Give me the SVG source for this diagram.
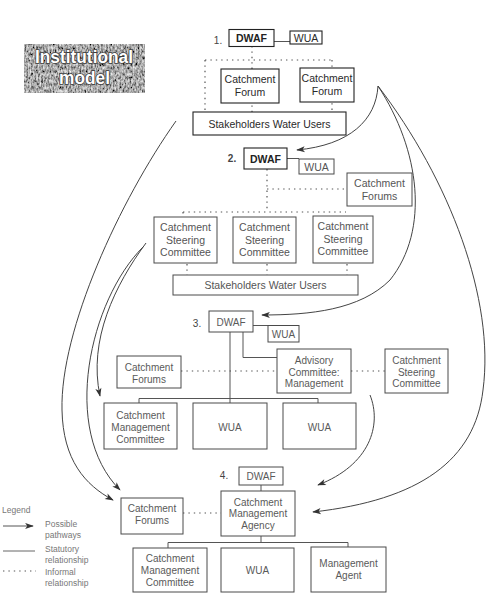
<svg xmlns="http://www.w3.org/2000/svg" width="496" height="606" viewBox="0 0 496 606">
  <style>
    text { font-family: "Liberation Sans", Arial, sans-serif; }
    .box { fill: #fff; stroke: #4a4a4a; stroke-width: 1; }
    .box1 { fill: #fff; stroke: #222; stroke-width: 1.1; }
    .t { font-size: 10px; fill: #5a5a5a; text-anchor: middle; }
    .t1 { font-size: 10.5px; fill: #2a2a2a; text-anchor: middle; }
    .t2 { font-size: 10.5px; fill: #555; text-anchor: middle; }
    .b { font-weight: bold; fill: #222; }
    .num { font-size: 10px; fill: #444; text-anchor: middle; }
    .solid { fill: none; stroke: #555; stroke-width: 1; }
    .dot { fill: none; stroke: #555; stroke-width: 1.2; stroke-dasharray: 1.4 4; }
    .path { fill: none; stroke: #444; stroke-width: 1; marker-end: url(#arrow); }
    .leg { font-size: 8.5px; fill: #777; }
    .badge-text { font-size: 18px; font-weight: bold; fill: #fff; stroke: #3a3a3a; stroke-width: 1.6; paint-order: stroke; text-anchor: middle; }
  </style>
  <defs>
    <marker id="arrow" viewBox="0 0 10 8" refX="9" refY="4" markerWidth="10" markerHeight="7" markerUnits="userSpaceOnUse" orient="auto">
      <path d="M0,0.5 L10,4 L0,7.5 L2.5,4 z" fill="#333"/>
    </marker>
    <!-- speckled grey texture for the title badge -->
    <filter id="grain" x="0" y="0" width="100%" height="100%">
      <feTurbulence type="fractalNoise" baseFrequency="0.6 0.3" numOctaves="3" seed="11" result="n"/>
      <feColorMatrix in="n" type="matrix" values="1.3 0 0 0 -0.25  1.3 0 0 0 -0.25  1.3 0 0 0 -0.25  0 0 0 0 1"/>
      <feComposite in2="SourceGraphic" operator="in"/>
    </filter>
  </defs>

  <!-- title badge -->
  <g id="badge">
    <rect x="24" y="44" width="121" height="49" fill="#666"/>
    <rect x="24" y="44" width="121" height="49" fill="#666" filter="url(#grain)"/>
    <text class="badge-text" x="84" y="63" textLength="98" lengthAdjust="spacingAndGlyphs">Institutional</text>
    <text class="badge-text" x="84.5" y="84" textLength="51" lengthAdjust="spacingAndGlyphs">model</text>
  </g>

  <!-- connectors -->
  <g id="connectors">
    <!-- stage 1 -->
    <line class="solid" x1="274" y1="41.5" x2="290" y2="41.5" stroke="#222"/>
    <line class="dot" x1="252" y1="46" x2="252" y2="112"/>
    <line class="dot" x1="205" y1="60" x2="332" y2="60"/>
    <line class="dot" x1="205" y1="60" x2="205" y2="112"/>
    <line class="dot" x1="332" y1="60" x2="332" y2="112"/>
    <!-- stage 2 -->
    <line class="solid" x1="287" y1="158.5" x2="299" y2="158.5"/>
    <line class="dot" x1="267" y1="169" x2="267" y2="212"/>
    <line class="dot" x1="267" y1="189" x2="347" y2="189"/>
    <line class="dot" x1="183" y1="212" x2="346" y2="212"/>
    <line class="dot" x1="183" y1="212" x2="183" y2="217"/>
    <line class="dot" x1="187" y1="264" x2="187" y2="275"/>
    <line class="dot" x1="267" y1="264" x2="267" y2="275"/>
    <line class="dot" x1="347" y1="264" x2="347" y2="275"/>
    <!-- stage 3 -->
    <line class="solid" x1="253" y1="325.5" x2="268" y2="325.5"/>
    <polyline class="solid" points="243,332 243,357.5 277,357.5"/>
    <line class="solid" x1="230" y1="332" x2="230" y2="403"/>
    <polyline class="solid" points="139,403 139,398.5 318,398.5 318,403"/>
    <line class="dot" x1="181" y1="371" x2="277" y2="371"/>
    <line class="dot" x1="351" y1="371" x2="385" y2="371"/>
    <!-- stage 4 -->
    <line class="solid" x1="261" y1="485" x2="261" y2="491"/>
    <line class="solid" x1="261" y1="536" x2="261" y2="542"/>
    <polyline class="solid" points="168,548 168,542.5 348,542.5 348,547"/>
    <line class="dot" x1="183" y1="513" x2="221" y2="513"/>

    <!-- possible pathways -->
    <path class="path" d="M176,121 C120,200 60,330 62,410 C63,460 85,485 113,500"/>
    <path class="path" d="M146,243 C115,285 88,340 100,396"/>
    <path class="path" d="M143,247 C90,300 60,430 120,490"/>
    <path class="path" d="M378,86 C376,120 350,145 297,150"/>
    <path class="path" d="M378,86 C420,150 430,230 390,280 C360,310 310,315 262,315"/>
    <path class="path" d="M378,86 C450,180 495,300 483,390 C475,460 420,500 313,512"/>
    <path class="path" d="M370,395 C382,425 370,465 318,485"/>
  </g>

  <!-- stage 1 -->
  <text class="num" x="218" y="44">1.</text>
  <g id="dwaf1">
    <rect class="box1" x="229" y="29.5" width="45" height="17"/>
    <text class="t1 b" x="251.5" y="42">DWAF</text>
  </g>
  <g id="wua1">
    <rect class="box1" x="290" y="31" width="32" height="13"/>
    <text class="t1" x="306" y="41.5" font-size="10">WUA</text>
  </g>
  <g id="forum1a">
    <rect class="box1" x="221" y="69" width="58" height="34"/>
    <text class="t1" x="250" y="83">Catchment</text>
    <text class="t1" x="250" y="96">Forum</text>
  </g>
  <g id="forum1b">
    <rect class="box1" x="300" y="68" width="54" height="34"/>
    <text class="t1" x="327" y="82">Catchment</text>
    <text class="t1" x="327" y="95">Forum</text>
  </g>
  <g id="users1">
    <rect class="box1" x="193" y="112" width="153" height="23"/>
    <text class="t1" x="269.5" y="127.5">Stakeholders Water Users</text>
  </g>

  <!-- stage 2 -->
  <text class="num b" x="232" y="162">2.</text>
  <g id="dwaf2">
    <rect class="box1" x="244" y="148" width="43" height="21"/>
    <text class="t1 b" x="265.5" y="162.5">DWAF</text>
  </g>
  <g id="wua2">
    <rect class="box" x="299" y="159" width="35" height="15"/>
    <text class="t2" x="316.5" y="170.5">WUA</text>
  </g>
  <g id="forums2">
    <rect class="box" x="347" y="173" width="65" height="33"/>
    <text class="t2" x="379.5" y="187">Catchment</text>
    <text class="t2" x="379.5" y="200">Forums</text>
  </g>
  <g id="steering2a">
    <rect class="box" x="154" y="217" width="63" height="46"/>
    <text class="t2" x="185.5" y="231">Catchment</text>
    <text class="t2" x="185.5" y="243.5">Steering</text>
    <text class="t2" x="185.5" y="256">Committee</text>
  </g>
  <g id="steering2b">
    <rect class="box" x="233" y="217" width="63" height="46"/>
    <text class="t2" x="264.5" y="231">Catchment</text>
    <text class="t2" x="264.5" y="243.5">Steering</text>
    <text class="t2" x="264.5" y="256">Committee</text>
  </g>
  <g id="steering2c">
    <rect class="box" x="313" y="216" width="60" height="47"/>
    <text class="t2" x="343" y="230">Catchment</text>
    <text class="t2" x="343" y="242.5">Steering</text>
    <text class="t2" x="343" y="255">Committee</text>
  </g>
  <g id="users2">
    <rect class="box" x="173" y="275" width="185" height="20"/>
    <text class="t2" x="265.5" y="289">Stakeholders Water Users</text>
  </g>

  <!-- stage 3 -->
  <text class="num" x="197" y="327">3.</text>
  <g id="dwaf3">
    <rect class="box" x="209" y="311" width="44" height="21"/>
    <text class="t" x="231" y="325.5">DWAF</text>
  </g>
  <g id="wua3">
    <rect class="box" x="268" y="325.5" width="31" height="16.5"/>
    <text class="t" x="283.5" y="338">WUA</text>
  </g>
  <g id="advisory3">
    <rect class="box" x="277" y="349" width="74" height="44"/>
    <text class="t" x="314" y="363.5">Advisory</text>
    <text class="t" x="314" y="375.5">Committee:</text>
    <text class="t" x="314" y="387">Management</text>
  </g>
  <g id="forums3">
    <rect class="box" x="117" y="356" width="64" height="32"/>
    <text class="t" x="149" y="370.5">Catchment</text>
    <text class="t" x="149" y="382.5">Forums</text>
  </g>
  <g id="steering3">
    <rect class="box" x="385" y="349" width="63" height="44"/>
    <text class="t" x="416.5" y="363.5">Catchment</text>
    <text class="t" x="416.5" y="375.5">Steering</text>
    <text class="t" x="416.5" y="387">Committee</text>
  </g>
  <g id="cmc3">
    <rect class="box" x="104" y="403" width="73" height="46"/>
    <text class="t" x="140.5" y="418.5">Catchment</text>
    <text class="t" x="140.5" y="430.5">Management</text>
    <text class="t" x="140.5" y="442.5">Committee</text>
  </g>
  <g id="wua3b">
    <rect class="box" x="193" y="403" width="74" height="46"/>
    <text class="t" x="230" y="430.5">WUA</text>
  </g>
  <g id="wua3c">
    <rect class="box" x="283" y="403" width="73" height="46"/>
    <text class="t" x="319.5" y="430.5">WUA</text>
  </g>

  <!-- stage 4 -->
  <text class="num" x="224" y="479">4.</text>
  <g id="dwaf4">
    <rect class="box" x="239" y="467" width="44" height="18"/>
    <text class="t" x="261" y="480">DWAF</text>
  </g>
  <g id="cma4">
    <rect class="box" x="221" y="491" width="74" height="45"/>
    <text class="t" x="258" y="505.5">Catchment</text>
    <text class="t" x="258" y="517">Management</text>
    <text class="t" x="258" y="529">Agency</text>
  </g>
  <g id="forums4">
    <rect class="box" x="121" y="498" width="62" height="36"/>
    <text class="t" x="152" y="512">Catchment</text>
    <text class="t" x="152" y="524">Forums</text>
  </g>
  <g id="cmc4">
    <rect class="box" x="133" y="548" width="74" height="44"/>
    <text class="t" x="170" y="561.5">Catchment</text>
    <text class="t" x="170" y="573.5">Management</text>
    <text class="t" x="170" y="585.5">Committee</text>
  </g>
  <g id="wua4">
    <rect class="box" x="221" y="548" width="73" height="44"/>
    <text class="t" x="257.5" y="573.5">WUA</text>
  </g>
  <g id="agent4">
    <rect class="box" x="311" y="547" width="75" height="45"/>
    <text class="t" x="348.5" y="566.5">Management</text>
    <text class="t" x="348.5" y="578.5">Agent</text>
  </g>

  <!-- legend -->
  <g id="legend">
    <text class="leg" x="2" y="513">Legend</text>
    <line x1="3" y1="526" x2="33" y2="526" stroke="#555" stroke-width="1" marker-end="url(#arrow)"/>
    <text class="leg" x="45" y="527">Possible</text>
    <text class="leg" x="45" y="538">pathways</text>
    <line x1="3" y1="551" x2="35" y2="551" stroke="#666" stroke-width="1"/>
    <text class="leg" x="45" y="552">Statutory</text>
    <text class="leg" x="45" y="563">relationship</text>
    <line class="dot" x1="3" y1="571" x2="36" y2="571" stroke="#888"/>
    <text class="leg" x="45" y="575">Informal</text>
    <text class="leg" x="45" y="586">relationship</text>
  </g>
</svg>
